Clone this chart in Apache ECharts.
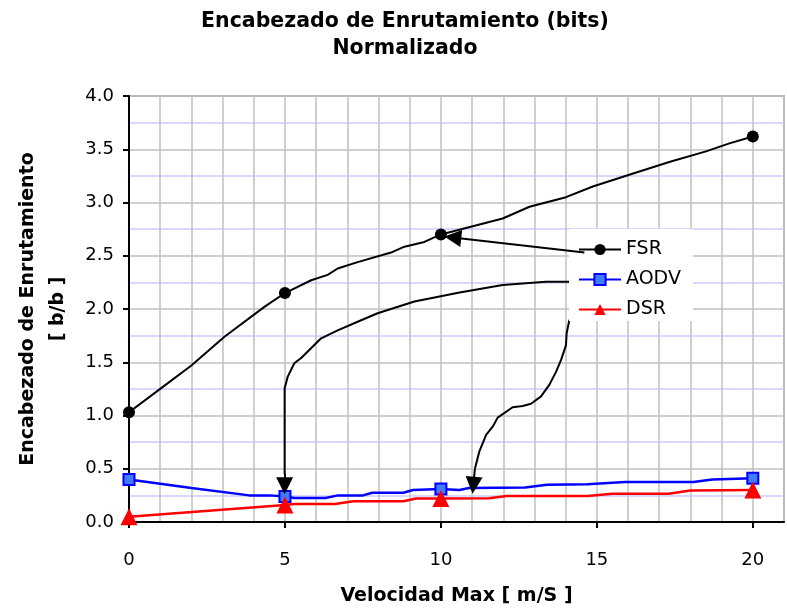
<!DOCTYPE html>
<html>
<head>
<meta charset="utf-8">
<script src="https://cdn.jsdelivr.net/npm/echarts@6/dist/echarts.min.js"></script>
<style>
html,body{margin:0;padding:0;background:#fff;}
#chart{width:787px;height:613px;}
</style>
</head>
<body>
<div id="chart"></div>
<script>
// ---- data ----
const titleText = 'Encabezado de Enrutamiento (bits)\nNormalizado';
const xName = 'Velocidad Max [ m/S ]';
const yName = 'Encabezado de Enrutamiento\n[ b/b ]';
const xTickValues = [0, 5, 10, 15, 20];
const seriesNames = ['FSR', 'AODV', 'DSR'];

// marked points (with symbols)
const fsrPoints  = [[0, 1.03], [5, 2.15], [10, 2.70], [20, 3.62]];
const aodvPoints = [[0, 0.40], [5, 0.24], [10, 0.31], [20, 0.41]];
const dsrPoints  = [[0, 0.05], [5, 0.16], [10, 0.22], [20, 0.30]];

// traced course of each curve between the marked points
const fsrTrace = [[1, 1.25], [2, 1.47], [3.06, 1.74], [4.34, 2.02], [5.84, 2.27], [6.37, 2.32], [6.69, 2.38],
  [7.33, 2.44], [8.4, 2.53], [8.83, 2.585], [9.47, 2.63], [11.98, 2.85], [12.84, 2.96], [14.01, 3.05],
  [14.87, 3.15], [16.04, 3.26], [17.32, 3.38], [18.5, 3.48], [19.25, 3.555]];
const aodvTrace = [[2, 0.32], [3.86, 0.25], [4.5, 0.25], [5.3, 0.225], [6.3, 0.225], [6.7, 0.25], [7.5, 0.25],
  [7.8, 0.275], [8.8, 0.275], [9.1, 0.30], [10.6, 0.30], [10.9, 0.32], [12.7, 0.325], [13.4, 0.35],
  [14.7, 0.355], [15.9, 0.375], [18.1, 0.375], [18.7, 0.40]];
const dsrTrace = [[5.3, 0.17], [6.6, 0.17], [7.2, 0.195], [8.8, 0.195], [9.2, 0.22], [11.55, 0.222],
  [12.1, 0.245], [14.7, 0.245], [15.5, 0.265], [17.3, 0.265], [18, 0.295]];

// annotation arrows (legend -> points)
const arrow1 = [[14.6, 2.531], [10.38, 2.671]];
const arrow2Curve = [[14.6, 2.256], [13.37, 2.256], [11.98, 2.225], [10.6, 2.155], [9.15, 2.07], [7.97, 1.96],
  [7.33, 1.88], [6.69, 1.80], [6.16, 1.725], [5.52, 1.54], [5.3, 1.49], [5.09, 1.365], [4.99, 1.255], [4.99, 0.45]];
const arrow2Head = [[4.99, 0.45], [4.99, 0.34]];
const arrow3Curve = [[14.12, 1.90], [14.03, 1.77], [14.01, 1.66], [13.85, 1.52], [13.69, 1.41], [13.48, 1.29],
  [13.21, 1.18], [12.89, 1.11], [12.62, 1.09], [12.3, 1.077], [11.82, 0.98], [11.66, 0.895], [11.45, 0.817],
  [11.23, 0.66], [11.09, 0.50]];
const arrow3Head = [[11.09, 0.50], [11.04, 0.345]];

// ---- build ----
function merge(points, trace, size) {
  const all = points.map(p => ({ value: p, symbolSize: size }))
    .concat(trace.map(p => ({ value: p, symbolSize: 0 })));
  all.sort((a, b) => a.value[0] - b.value[0]);
  return all;
}

const FONT = 'DejaVu Sans';
const chart = echarts.init(document.getElementById('chart'), null, { renderer: 'canvas' });

const arrowLineStyle = { color: '#000', width: 2 };

chart.setOption({
  animation: false,
  backgroundColor: '#fff',
  textStyle: { fontFamily: FONT },
  title: {
    text: titleText,
    left: 405, top: 8, padding: 0,
    textAlign: 'center',
    textStyle: { fontFamily: FONT, fontSize: 20.5, fontWeight: 'bold', color: '#000', lineHeight: 27 }
  },
  legend: {
    data: seriesNames,
    orient: 'vertical',
    left: 569, top: 229,
    padding: [11, 12, 2, 9],
    itemWidth: 42, itemHeight: 14, itemGap: 11,
    backgroundColor: '#fff',
    textStyle: { fontFamily: FONT, fontSize: 19, color: '#000' }
  },
  grid: {
    left: 129, right: 3, top: 96, bottom: 91,
    show: true, borderColor: '#b0b0b0', borderWidth: 2, backgroundColor: '#fff'
  },
  xAxis: [{
    type: 'value', min: 0, max: 21, interval: 1,
    name: xName, nameLocation: 'middle', nameGap: 65,
    nameTextStyle: { fontFamily: FONT, fontSize: 19, fontWeight: 'bold', color: '#000' },
    axisLine: { show: true, onZero: false, lineStyle: { color: '#000', width: 2 } },
    axisTick: { show: true, length: 6, customValues: xTickValues, lineStyle: { color: '#000', width: 2 } },
    axisLabel: { customValues: xTickValues, margin: 29, fontSize: 18, color: '#000', fontFamily: FONT },
    splitLine: { show: false }
  }, {
    type: 'value', min: 0, max: 21, interval: 1, position: 'bottom',
    axisLine: { show: false }, axisTick: { show: false }, axisLabel: { show: false },
    splitLine: { show: true, lineStyle: { color: '#c0c0c0', width: 1.5 } }
  }],
  yAxis: {
    type: 'value', min: 0, max: 4, interval: 0.5,
    name: yName, nameLocation: 'middle', nameGap: 56, nameRotate: 90,
    nameTextStyle: { fontFamily: FONT, fontSize: 19, fontWeight: 'bold', color: '#000', lineHeight: 30 },
    axisLine: { show: true, lineStyle: { color: '#000', width: 2 } },
    axisTick: { show: true, length: 6, lineStyle: { color: '#000', width: 2 } },
    axisLabel: { margin: 15, fontSize: 18, color: '#000', fontFamily: FONT, formatter: v => v.toFixed(1) },
    splitLine: { show: true, lineStyle: { color: '#c0c0c0', width: 1.5 } },
    minorTick: { show: false, splitNumber: 2 },
    minorSplitLine: { show: true, lineStyle: { color: '#ccccff', width: 1.5 } }
  },
  series: [
    { name: 'arrow2', type: 'line', data: arrow2Curve, symbol: 'none', lineStyle: arrowLineStyle, silent: true, z: 1 },
    { name: 'arrow3', type: 'line', data: arrow3Curve, symbol: 'none', lineStyle: arrowLineStyle, silent: true, z: 1 },
    {
      name: 'FSR', type: 'line', data: merge(fsrPoints, fsrTrace, 12),
      symbol: 'circle', showAllSymbol: true,
      itemStyle: { color: '#000' }, lineStyle: { color: '#000', width: 2 }, z: 3
    },
    {
      name: 'AODV', type: 'line', data: merge(aodvPoints, aodvTrace, 11),
      symbol: 'rect', showAllSymbol: true,
      itemStyle: { color: '#3f7cff', borderColor: '#0000ff', borderWidth: 2 },
      lineStyle: { color: '#0000ff', width: 2.5 }, z: 3
    },
    {
      name: 'DSR', type: 'line', data: merge(dsrPoints, dsrTrace, 17),
      symbol: 'triangle', showAllSymbol: true,
      itemStyle: { color: '#ff0000' }, lineStyle: { color: '#ff0000', width: 2.5 }, z: 4
    },
    {
      name: 'arrowHeads', type: 'lines', coordinateSystem: 'cartesian2d', silent: true, z: 5,
      symbol: ['none', 'triangle'], symbolSize: 17,
      lineStyle: { color: '#000', width: 2, opacity: 1 },
      data: [{ coords: arrow1 }, { coords: arrow2Head }, { coords: arrow3Head }]
    }
  ]
});
</script>
</body>
</html>
